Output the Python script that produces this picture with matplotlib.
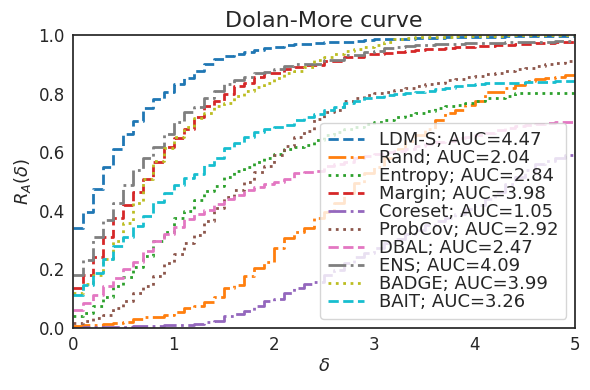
import numpy as np
import matplotlib
matplotlib.use("Agg")
import matplotlib.pyplot as plt

delta = np.round(np.arange(0, 5.001, 0.1), 1)

ldm_s = [0.342, 0.397, 0.475, 0.55, 0.61, 0.662, 0.708, 0.751, 0.783, 0.807,
         0.832, 0.854, 0.879, 0.903, 0.918, 0.928, 0.936, 0.943, 0.949, 0.955,
         0.96, 0.966, 0.968, 0.971, 0.974, 0.976, 0.977, 0.978, 0.98, 0.982,
         0.985, 0.986, 0.987, 0.988, 0.989, 0.99, 0.991, 0.992, 0.993, 0.994,
         0.994, 0.995, 0.995, 0.996, 0.996, 0.997, 0.997, 0.997, 0.998, 0.998, 0.998]
rand = [0.007, 0.01, 0.01, 0.014, 0.018, 0.022, 0.03, 0.036, 0.039, 0.044,
        0.056, 0.067, 0.075, 0.09, 0.107, 0.135, 0.147, 0.177, 0.204, 0.226,
        0.272, 0.306, 0.329, 0.34, 0.374, 0.397, 0.428, 0.46, 0.494, 0.528,
        0.551, 0.58, 0.61, 0.64, 0.66, 0.68, 0.71, 0.735, 0.745, 0.76,
        0.775, 0.807, 0.807, 0.818, 0.829, 0.844, 0.849, 0.852, 0.858, 0.863, 0.871]
entropy = [0.04, 0.05, 0.076, 0.107, 0.143, 0.175, 0.209, 0.246, 0.298, 0.329,
           0.377, 0.4, 0.437, 0.469, 0.485, 0.517, 0.537, 0.551, 0.568, 0.579,
           0.594, 0.61, 0.619, 0.625, 0.642, 0.659, 0.67, 0.678, 0.687, 0.696,
           0.704, 0.71, 0.72, 0.728, 0.735, 0.742, 0.75, 0.757, 0.763, 0.768,
           0.774, 0.784, 0.784, 0.792, 0.803, 0.803, 0.803, 0.803, 0.803, 0.803, 0.803]
margin = [0.138, 0.181, 0.243, 0.312, 0.374, 0.42, 0.465, 0.51, 0.568, 0.619,
          0.647, 0.681, 0.719, 0.758, 0.776, 0.799, 0.826, 0.837, 0.858, 0.869,
          0.871, 0.883, 0.89, 0.898, 0.898, 0.912, 0.912, 0.926, 0.926, 0.935,
          0.937, 0.94, 0.943, 0.946, 0.948, 0.951, 0.953, 0.955, 0.958, 0.96,
          0.962, 0.964, 0.966, 0.967, 0.969, 0.97, 0.972, 0.973, 0.975, 0.976, 0.977]
coreset = [0.001, 0.005, 0.005, 0.005, 0.005, 0.005, 0.007, 0.007, 0.007, 0.01,
           0.01, 0.01, 0.014, 0.022, 0.025, 0.041, 0.048, 0.059, 0.075, 0.093,
           0.098, 0.118, 0.135, 0.15, 0.158, 0.181, 0.198, 0.221, 0.243, 0.257,
           0.272, 0.29, 0.305, 0.32, 0.335, 0.35, 0.365, 0.375, 0.39, 0.405,
           0.42, 0.44, 0.465, 0.49, 0.515, 0.54, 0.56, 0.57, 0.58, 0.59, 0.6]
probcov = [0.018, 0.025, 0.033, 0.044, 0.067, 0.093, 0.121, 0.143, 0.177, 0.223,
           0.253, 0.291, 0.317, 0.366, 0.408, 0.446, 0.471, 0.499, 0.534, 0.553,
           0.59, 0.621, 0.653, 0.673, 0.712, 0.738, 0.745, 0.776, 0.784, 0.795,
           0.801, 0.806, 0.812, 0.818, 0.825, 0.832, 0.838, 0.845, 0.85, 0.856,
           0.862, 0.867, 0.872, 0.878, 0.883, 0.888, 0.893, 0.9, 0.905, 0.91, 0.915]
dbal = [0.062, 0.086, 0.113, 0.143, 0.17, 0.2, 0.226, 0.264, 0.298, 0.321,
        0.344, 0.371, 0.389, 0.403, 0.423, 0.442, 0.455, 0.471, 0.482, 0.49,
        0.499, 0.507, 0.528, 0.531, 0.537, 0.553, 0.56, 0.568, 0.579, 0.587,
        0.594, 0.6, 0.605, 0.612, 0.62, 0.628, 0.635, 0.64, 0.648, 0.652,
        0.658, 0.667, 0.675, 0.683, 0.69, 0.694, 0.698, 0.7, 0.703, 0.705, 0.708]
ens = [0.181, 0.232, 0.309, 0.369, 0.428, 0.487, 0.541, 0.579, 0.619, 0.661,
       0.702, 0.736, 0.755, 0.784, 0.809, 0.832, 0.846, 0.858, 0.869, 0.875,
       0.883, 0.895, 0.9, 0.903, 0.903, 0.915, 0.915, 0.932, 0.932, 0.943,
       0.946, 0.955, 0.96, 0.963, 0.965, 0.966, 0.968, 0.969, 0.971, 0.972,
       0.972, 0.973, 0.974, 0.975, 0.976, 0.977, 0.977, 0.978, 0.979, 0.98, 0.98]
badge = [0.118, 0.15, 0.181, 0.234, 0.298, 0.359, 0.428, 0.51, 0.571, 0.613,
         0.651, 0.687, 0.716, 0.735, 0.758, 0.769, 0.792, 0.808, 0.824, 0.838,
         0.854, 0.87, 0.878, 0.89, 0.915, 0.926, 0.935, 0.946, 0.954, 0.96,
         0.966, 0.977, 0.985, 0.99, 0.992, 0.993, 0.994, 0.995, 0.996, 0.997,
         0.997, 0.998, 0.998, 0.999, 0.999, 1.0, 1.0, 1.0, 1.0, 1.0, 1.0]
bait = [0.113, 0.147, 0.189, 0.235, 0.28, 0.312, 0.349, 0.384, 0.431, 0.462,
        0.488, 0.511, 0.526, 0.556, 0.582, 0.613, 0.63, 0.651, 0.67, 0.678,
        0.687, 0.693, 0.71, 0.721, 0.729, 0.744, 0.755, 0.767, 0.775, 0.784,
        0.79, 0.795, 0.8, 0.803, 0.806, 0.81, 0.815, 0.82, 0.825, 0.83,
        0.833, 0.835, 0.836, 0.837, 0.838, 0.839, 0.84, 0.841, 0.842, 0.843, 0.844]

names = ["LDM-S", "Rand", "Entropy", "Margin", "Coreset", "ProbCov", "DBAL", "ENS", "BADGE", "BAIT"]
aucs = ["4.47", "2.04", "2.84", "3.98", "1.05", "2.92", "2.47", "4.09", "3.99", "3.26"]
series = [ldm_s, rand, entropy, margin, coreset, probcov, dbal, ens, badge, bait]

colors = ["#1f77b4", "#ff7f0e", "#2ca02c", "#d62728", "#9467bd",
          "#8c564b", "#e377c2", "#7f7f7f", "#bcbd22", "#17becf"]
styles = ["--", "-.", ":", "--", "-.", ":", "--", "-.", ":", "--"]

plt.rcParams["font.family"] = ["DejaVu Sans"]
plt.rcParams["text.color"] = ".15"
plt.rcParams["axes.labelcolor"] = ".15"
plt.rcParams["xtick.color"] = ".15"
plt.rcParams["ytick.color"] = ".15"

fig = plt.figure(figsize=(5.9, 3.9), dpi=100)
ax = fig.add_axes([0.124, 0.159, 0.851, 0.751])

for name, auc, ys, c, ls in zip(names, aucs, series, colors, styles):
    ax.step(delta, ys, where="post", color=c, linestyle=ls, linewidth=2,
            label=f"{name}; AUC={auc}")

ax.set_xlim(0, 5)
ax.set_ylim(0, 1)
ax.set_xticks([0, 1, 2, 3, 4, 5])
ax.set_yticks([0.0, 0.2, 0.4, 0.6, 0.8, 1.0])
ax.tick_params(length=0, labelsize=12, pad=6)
for s in ax.spines.values():
    s.set_color(".15")
    s.set_linewidth(1.25)
ax.set_xlabel(r"$\delta$", fontsize=13, labelpad=2)
ax.set_ylabel(r"$R_A(\delta)$", fontsize=13)
ax.set_title("Dolan-More curve", fontsize=16)
ax.legend(loc="lower right", fontsize=13, handlelength=2, labelspacing=0.0,
          borderpad=0.45, handletextpad=0.8, framealpha=0.8, edgecolor="0.8")

fig.savefig("out.png", dpi=100)
